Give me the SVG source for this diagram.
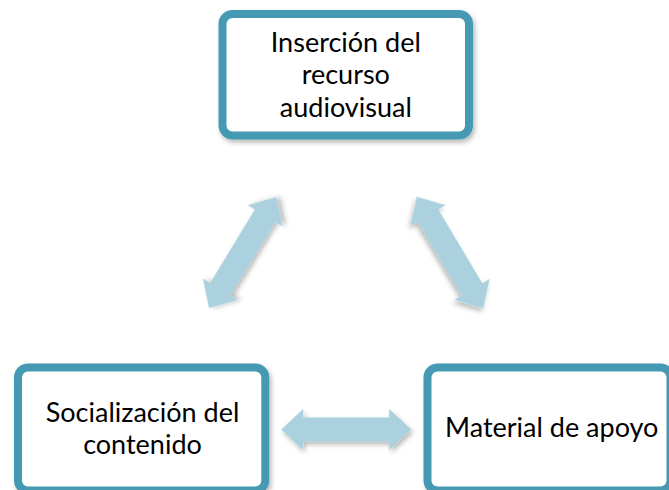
<svg xmlns="http://www.w3.org/2000/svg" width="669" height="490" viewBox="0 0 669 490">
  <defs>
    <filter id="shadow" x="-20%" y="-20%" width="140%" height="140%">
      <feDropShadow dx="2" dy="3" stdDeviation="2.5" flood-color="#000" flood-opacity="0.28"/>
    </filter>
    <path id="dbl" d="M -65 0 L -43 -20.5 L -43 -12 L 43 -12 L 43 -20.5 L 65 0 L 43 20.5 L 43 12 L -43 12 L -43 20.5 Z"/>
  </defs>
  <style>
    .box { fill: #ffffff; stroke: #4599b3; stroke-width: 8; filter: url(#shadow); }
    .lbl { font-family: Lato, "Liberation Sans", sans-serif; font-size: 27px; fill: #000; text-anchor: middle; }
    .arr { fill: #abd1de; filter: url(#shadow); }
  </style>
  <rect width="669" height="490" fill="#ffffff"/>
  <g id="connectors">
    <use href="#dbl" class="arr" transform="translate(242.75 252.5) rotate(-58.7)"/>
    <use href="#dbl" class="arr" transform="translate(450 252.5) rotate(59.2)"/>
    <use href="#dbl" class="arr" transform="translate(346.2 429.5)"/>
  </g>
  <g id="node-insercion">
    <rect class="box" x="222.5" y="14" width="246.5" height="121.5" rx="10"/>
    <text class="lbl" x="345.8" y="51.7">Inserción del</text>
    <text class="lbl" x="345.8" y="84">recurso</text>
    <text class="lbl" x="345.8" y="116.7">audiovisual</text>
  </g>
  <g id="node-socializacion">
    <rect class="box" x="18" y="367.5" width="247.3" height="123" rx="10"/>
    <text class="lbl" x="142.5" y="421.7">Socialización del</text>
    <text class="lbl" x="142.5" y="454">contenido</text>
  </g>
  <g id="node-material">
    <rect class="box" x="427.5" y="367.5" width="243" height="123" rx="10"/>
    <text class="lbl" x="551.7" y="437.3">Material de apoyo</text>
  </g>
</svg>
